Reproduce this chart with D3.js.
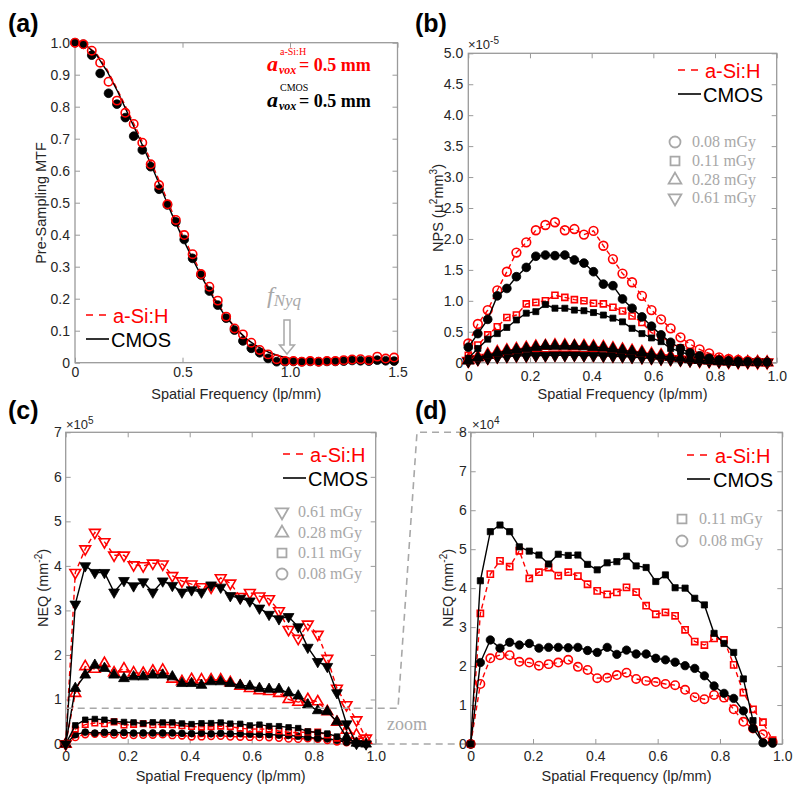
<!DOCTYPE html>
<html><head><meta charset="utf-8">
<script src="https://cdn.jsdelivr.net/npm/d3@7"></script>
<style>body{margin:0;background:#fff} svg{display:block} text{font-family:"Liberation Sans",Arial,sans-serif}</style>
</head><body>
<svg id="fig" width="800" height="795"></svg>
<script>
// ---------- DATA ----------
// (a) pre-sampling MTF
const freqMTF = [0,0.039,0.078,0.117,0.156,0.195,0.234,0.273,0.313,0.352,0.391,0.430,0.469,0.508,0.547,0.586,0.625,0.664,0.703,0.742,0.781,0.820,0.859,0.898,0.938,0.977,1.016,1.055,1.094,1.133,1.172,1.211,1.250,1.289,1.328,1.367,1.406,1.445,1.484];
const mtfASi = [1.0,0.995,0.975,0.9375,0.878,0.819,0.781,0.746,0.6875,0.62,0.555,0.495,0.446,0.399,0.339,0.277,0.2375,0.194,0.144,0.107,0.0885,0.0625,0.04,0.026,0.011,0.005,0.005,0.003,0.005,0.003,0.005,0.005,0.008,0.01,0.011,0.008,0.019,0.013,0.016];
const mtfCMOS = [1.0,0.995,0.961,0.904,0.842,0.808,0.766,0.708,0.665,0.6125,0.542,0.493,0.44,0.385,0.326,0.274,0.224,0.18,0.139,0.102,0.068,0.045,0.031,0.0135,0.003,0.003,0.004,0.003,0.004,0.003,0.004,0.004,0.005,0.007,0.006,0.005,0.008,0.006,0.005];
const fitFreq = [0,0.05,0.1,0.15,0.2,0.25,0.3,0.35,0.4,0.45,0.5,0.55,0.6,0.65,0.7,0.75,0.8,0.85,0.9,0.95,1.0,1.05,1.1,1.15,1.2,1.25,1.3,1.35,1.4,1.45,1.5];
const fitCMOS = [1.0,0.993,0.962,0.91,0.845,0.772,0.70,0.625,0.545,0.465,0.39,0.32,0.255,0.195,0.145,0.105,0.073,0.05,0.033,0.021,0.013,0.008,0.005,0.004,0.003,0.003,0.003,0.003,0.003,0.003,0.003];
const fitASi = [1.0,0.993,0.966,0.915,0.85,0.78,0.71,0.635,0.555,0.475,0.40,0.33,0.262,0.2,0.148,0.106,0.073,0.049,0.032,0.02,0.012,0.007,0.005,0.004,0.004,0.004,0.005,0.006,0.007,0.008,0.008];

// (b)-(d) frequency samples
const freq = [0,0.031,0.063,0.094,0.125,0.156,0.188,0.219,0.25,0.281,0.313,0.344,0.375,0.406,0.438,0.469,0.5,0.531,0.563,0.594,0.625,0.656,0.688,0.719,0.75,0.781,0.813,0.844,0.875,0.906,0.938,0.969];

// (b) NPS, x1e-5 mu^2 mm^3
const npsASi008 = [0.31,0.625,0.85,1.17,1.47,1.78,1.945,2.14,2.225,2.27,2.14,2.16,2.07,2.13,1.89,1.675,1.44,1.30,1.08,0.85,0.70,0.555,0.41,0.30,0.215,0.15,0.086,0.06,0.043,0.027,0.016,0.01];
const npsCMOS008 = [0.25,0.47,0.70,1.08,1.20,1.39,1.54,1.72,1.74,1.73,1.74,1.66,1.61,1.47,1.27,1.245,1.03,0.88,0.74,0.59,0.45,0.33,0.23,0.16,0.11,0.07,0.043,0.03,0.02,0.015,0.01,0.008];
const npsASi011 = [0.12,0.285,0.45,0.58,0.73,0.77,0.95,0.975,1.00,1.09,1.055,1.02,1.00,0.96,0.95,0.895,0.835,0.755,0.65,0.485,0.435,0.31,0.24,0.18,0.12,0.086,0.06,0.04,0.03,0.02,0.015,0.01];
const npsCMOS011 = [0.07,0.23,0.38,0.47,0.57,0.69,0.80,0.825,0.94,0.88,0.88,0.85,0.84,0.81,0.77,0.72,0.66,0.555,0.47,0.40,0.34,0.23,0.18,0.12,0.097,0.06,0.04,0.025,0.015,0.01,0.008,0.005];
const npsASi028 = [0.04,0.09,0.13,0.17,0.2,0.22,0.24,0.26,0.27,0.28,0.28,0.27,0.27,0.26,0.25,0.23,0.21,0.19,0.17,0.14,0.12,0.10,0.08,0.06,0.045,0.035,0.025,0.02,0.015,0.01,0.008,0.005];
const npsCMOS028 = [0.03,0.08,0.12,0.16,0.19,0.21,0.23,0.25,0.27,0.27,0.27,0.27,0.26,0.25,0.24,0.22,0.2,0.18,0.16,0.13,0.11,0.09,0.07,0.05,0.04,0.03,0.02,0.015,0.01,0.008,0.006,0.004];
const npsASi061 = [0.03,0.06,0.08,0.1,0.11,0.12,0.12,0.125,0.125,0.13,0.13,0.13,0.125,0.125,0.12,0.115,0.11,0.1,0.09,0.08,0.07,0.06,0.05,0.04,0.03,0.025,0.02,0.015,0.01,0.008,0.006,0.005];
const npsCMOS061 = [0.02,0.05,0.07,0.09,0.1,0.11,0.11,0.115,0.115,0.12,0.12,0.12,0.115,0.115,0.11,0.105,0.1,0.09,0.08,0.07,0.06,0.05,0.04,0.03,0.025,0.02,0.015,0.01,0.008,0.006,0.005,0.004];

// (c)/(d) NEQ, in units of 1e4 mm^-2
const neqASi061 = [0,38.5,43.8,47.5,45.4,42.4,42.4,40.2,40.0,40.6,40.4,37.8,36.6,35.9,35.3,35.2,37.3,36.1,33.1,34.0,33.2,32.6,29.9,25.7,23.7,26.9,24.6,19.2,12.5,8.8,5.4,1.3];
const neqCMOS061 = [0,31.4,40.0,38.5,38.5,34.1,36.7,35.5,36.4,34.1,36.6,35.6,34.1,34.6,34.1,35.7,35.2,33.3,32.7,32.1,30.5,29.1,28.1,28.6,26.3,21.7,18.5,17.4,11.5,4.5,0.1,0];
const neqASi028 = [0,11.4,17.4,16.8,18.1,16.0,16.9,16.0,15.9,16.4,16.6,14.6,14.0,14.5,14.4,14.4,14.4,13.8,13.0,12.5,12.0,11.8,11.4,10.0,9.4,10.0,9.5,7.3,4.9,3.1,2.0,0.9];
const neqCMOS028 = [0,12.5,15.5,17.7,17.0,15.5,14.7,15.1,15.1,15.5,15.5,15.1,13.6,13.6,13.2,14.0,14.0,13.6,13.2,13.0,12.5,12.3,12.3,11.5,10.8,8.8,7.5,7.3,5.0,1.5,0.2,0];
const neqCMOS011 = [0,4.19,5.45,5.62,5.45,5.06,4.95,4.85,4.62,4.87,4.84,4.85,4.61,4.47,4.65,4.68,4.82,4.57,4.53,4.17,4.34,4.01,4.0,3.74,3.57,2.84,2.58,2.35,1.67,0.6,0.03,0.06];
const neqASi011 = [0,3.35,4.36,4.70,4.55,4.96,4.25,4.41,4.53,4.32,4.41,4.31,4.10,3.93,3.84,3.89,4.02,3.90,3.55,3.33,3.38,3.29,2.93,2.63,2.54,2.71,2.67,2.03,1.32,0.89,0.56,0.10];
const neqCMOS008 = [0,2.09,2.67,2.46,2.61,2.54,2.58,2.46,2.48,2.48,2.47,2.48,2.40,2.35,2.48,2.30,2.41,2.31,2.31,2.20,2.16,2.10,2.01,1.94,1.75,1.49,1.30,1.17,0.85,0.40,0.03,0.02];
const neqASi008 = [0,1.54,2.2,2.28,2.28,2.11,2.09,2.01,2.05,2.09,2.16,1.98,1.90,1.69,1.70,1.77,1.83,1.67,1.62,1.59,1.54,1.51,1.39,1.20,1.15,1.26,1.19,0.89,0.57,0.40,0.25,0.06];

// tick labels
const ticksA_x = [0,0.5,1.0,1.5], ticksA_xl = ["0","0.5","1.0","1.5"];
const ticksA_y = [0,0.1,0.2,0.3,0.4,0.5,0.6,0.7,0.8,0.9,1.0], ticksA_yl = ["0","0.1","0.2","0.3","0.4","0.5","0.6","0.7","0.8","0.9","1.0"];
const ticksF = [0,0.2,0.4,0.6,0.8,1.0], ticksFl = ["0","0.2","0.4","0.6","0.8","1.0"];
const ticksB_y = [0,0.5,1,1.5,2,2.5,3,3.5,4,4.5,5], ticksB_yl = ["0","0.5","1.0","1.5","2.0","2.5","3.0","3.5","4.0","4.5","5.0"];
const ticksC_y = [0,10,20,30,40,50,60,70], ticksC_yl = ["0","1","2","3","4","5","6","7"];
const ticksD_y = [0,1,2,3,4,5,6,7,8], ticksD_yl = ["0","1","2","3","4","5","6","7","8"];
const doseLabels = ["0.08 mGy","0.11 mGy","0.28 mGy","0.61 mGy"];

// ---------- DRAWING ----------
const svg = d3.select("#fig");
const RED = "#ff0000", BLK = "#000", LG = "#a8a8a8", FRAME = "#9a9a9a", TXT = "#262626";
const SHAPES = {circle: d3.symbolCircle, square: d3.symbolSquare, up: d3.symbolTriangle, down: d3.symbolTriangle};

function panel(c) {
  const x = d3.scaleLinear().domain(c.xd).range([c.l, c.r]);
  const y = d3.scaleLinear().domain(c.yd).range([c.b, c.t]);
  const g = svg.append("g");
  const mk = (axis, tr, vals, labels, pad) => {
    const a = axis.tickValues(vals).tickSizeInner(-5).tickSizeOuter(0).tickPadding(pad)
      .tickFormat(labels ? (d, i) => labels[i] : () => "");
    const ag = g.append("g").attr("transform", tr).call(a);
    ag.select(".domain").remove();
    ag.selectAll("line").attr("stroke", FRAME);
    ag.selectAll("text").attr("fill", TXT).style("font-size", "14px").style("font-family", '"Liberation Sans",Arial,sans-serif');
  };
  mk(d3.axisBottom(x), `translate(0,${c.b})`, c.xt, c.xtl, c.xpad);
  mk(d3.axisTop(x), `translate(0,${c.t})`, c.xt, null, 0);
  mk(d3.axisLeft(y), `translate(${c.l},0)`, c.yt, c.ytl, c.ypad);
  mk(d3.axisRight(y), `translate(${c.r},0)`, c.yt, null, 0);
  g.append("rect").attr("x", c.l).attr("y", c.t).attr("width", c.r - c.l).attr("height", c.b - c.t)
    .attr("fill", "none").attr("stroke", FRAME).attr("stroke-width", 1.3);
  // titles
  g.append("text").attr("x", (c.l + c.r) / 2).attr("y", c.xty).attr("text-anchor", "middle")
    .attr("fill", TXT).style("font-size", "14.5px").text("Spatial Frequency (lp/mm)");
  const yt = g.append("text").attr("transform", `translate(${c.ytx},${c.ytyc}) rotate(-90)`)
    .attr("text-anchor", "middle").attr("fill", TXT).style("font-size", "14.5px");
  c.ytitle(yt);
  g.append("text").attr("x", c.lx).attr("y", c.ly).attr("fill", "#000")
    .style("font-size", "25px").style("font-weight", "bold").text(c.letter);
  return {x, y, g};
}

function series(p, xs, ys, o) {
  if (o.line) {
    const ln = d3.line().x((d, i) => p.x(xs[i])).y(d => p.y(d));
    p.g.append("path").attr("d", ln(ys)).attr("fill", "none").attr("stroke", o.color)
      .attr("stroke-width", o.lw || 1.4).attr("stroke-dasharray", o.dash ? "5,3.5" : null);
  }
  if (o.shape) {
    const s = d3.symbol().type(SHAPES[o.shape]).size(o.size);
    p.g.append("g").selectAll("path").data(ys).enter().append("path").attr("d", s)
      .attr("transform", (d, i) => `translate(${p.x(xs[i])},${p.y(d)})${o.shape === "down" ? " rotate(180)" : ""}`)
      .attr("fill", o.filled ? o.color : "none").attr("stroke", o.color).attr("stroke-width", o.filled ? 0.8 : 1.6);
  }
}

function lineLegend(xl, xt, yA, yC) {
  svg.append("line").attr("x1", xl).attr("x2", xl + 20).attr("y1", yA - 8).attr("y2", yA - 8)
    .attr("stroke", RED).attr("stroke-width", 1.6).attr("stroke-dasharray", "7,6");
  svg.append("text").attr("x", xt).attr("y", yA).attr("fill", RED).style("font-size", "20px").text("a-Si:H");
  svg.append("line").attr("x1", xl).attr("x2", xl + 23).attr("y1", yC - 8).attr("y2", yC - 8)
    .attr("stroke", BLK).attr("stroke-width", 1.6);
  svg.append("text").attr("x", xt - 2).attr("y", yC).attr("fill", BLK).style("font-size", "20px").text("CMOS");
}

function markerLegend(xs, xt, rows) {
  rows.forEach(r => {
    const s = d3.symbol().type(SHAPES[r.shape]).size(r.shape === "circle" ? 95 : r.shape === "square" ? 80 : 70);
    svg.append("path").attr("d", s)
      .attr("transform", `translate(${xs},${r.y})${r.shape === "down" ? " rotate(180)" : ""}`)
      .attr("fill", "none").attr("stroke", LG).attr("stroke-width", 1.8);
    svg.append("text").attr("x", xt).attr("y", r.y + 5).attr("fill", LG)
      .style("font-family", '"Liberation Serif","DejaVu Serif",serif').style("font-size", "16px").text(r.label);
  });
}

function expLabel(x, y, base, sup) {
  const t = svg.append("text").attr("x", x).attr("y", y).attr("fill", TXT).style("font-size", "13px");
  t.append("tspan").text(base);
  t.append("tspan").attr("dy", -5).style("font-size", "10px").text(sup);
}

// ----- (a) -----
const pa = panel({l: 75, r: 397.5, t: 42.7, b: 362.7, xd: [0, 1.5], yd: [0, 1],
  xt: ticksA_x, xtl: ticksA_xl, yt: ticksA_y, ytl: ticksA_yl, xpad: 4, ypad: 5,
  xty: 399, ytx: 46, ytyc: 203, lx: 8, ly: 32, letter: "(a)",
  ytitle: t => t.text("Pre-Sampling MTF")});
series(pa, fitFreq, fitASi, {color: RED, line: true, dash: true});
series(pa, fitFreq, fitCMOS, {color: BLK, line: true});
series(pa, freqMTF, mtfCMOS, {color: BLK, shape: "circle", size: 60, filled: true});
series(pa, freqMTF, mtfASi, {color: RED, shape: "circle", size: 55});
lineLegend(86, 113, 323, 347);
// voxel annotations
function vox(y, color, sup) {
  const serif = '"Liberation Serif","DejaVu Serif",serif';
  svg.append("text").attr("x", 267).attr("y", y).attr("fill", color).style("font-family", serif)
    .style("font-size", "22px").style("font-style", "italic").style("font-weight", "bold").text("a");
  svg.append("text").attr("x", 279).attr("y", y + 3).attr("fill", color).style("font-family", serif)
    .style("font-size", "12px").style("font-style", "italic").style("font-weight", "bold").text("vox");
  svg.append("text").attr("x", 280).attr("y", y - 16).attr("fill", color).style("font-family", serif)
    .style("font-size", "10px").text(sup);
  svg.append("text").attr("x", 299).attr("y", y).attr("fill", color).style("font-family", serif)
    .style("font-size", "18px").style("font-weight", "bold").text("= 0.5 mm");
}
vox(71, RED, "a-Si:H");
vox(107, BLK, "CMOS");
// f_Nyq annotation
{
  const serif = '"Liberation Serif","DejaVu Serif",serif';
  const t = svg.append("text").attr("x", 267).attr("y", 303).attr("fill", LG).style("font-family", serif).style("font-style", "italic");
  t.append("tspan").style("font-size", "24px").text("f");
  t.append("tspan").attr("dy", 3).style("font-size", "17px").text("Nyq");
  svg.append("path").attr("d", "M284,320 L290,320 L290,345 L294.5,345 L287,354 L279.5,345 L284,345 Z")
    .attr("fill", "none").attr("stroke", LG).attr("stroke-width", 1.5);
}

// ----- (b) -----
const pb = panel({l: 468.3, r: 776.7, t: 53.3, b: 362.7, xd: [0, 1], yd: [0, 5],
  xt: ticksF, xtl: ticksFl, yt: ticksB_y, ytl: ticksB_yl, xpad: 8, ypad: 5,
  xty: 399, ytx: 443, ytyc: 208, lx: 415, ly: 32, letter: "(b)",
  ytitle: t => { t.append("tspan").text("NPS ("); t.append("tspan").style("font-family", '"DejaVu Sans",sans-serif').text("μ");
    t.append("tspan").attr("dy", -6).style("font-size", "10px").text("2");
    t.append("tspan").attr("dy", 6).text("mm"); t.append("tspan").attr("dy", -6).style("font-size", "10px").text("3");
    t.append("tspan").attr("dy", 6).text(")"); }});
expLabel(468, 49, "×10", "-5");
[[npsASi061, npsCMOS061, "down", 55], [npsASi028, npsCMOS028, "up", 55], [npsASi011, npsCMOS011, "square", 36], [npsASi008, npsCMOS008, "circle", 60]]
  .forEach(([a, c, sh, sz]) => {
    series(pb, freq, a, {color: RED, line: true, dash: true, shape: sh, size: sz});
    series(pb, freq, c, {color: BLK, line: true, shape: sh, size: sz, filled: true});
  });
lineLegend(678, 705, 78, 102);
markerLegend(675, 692, [{shape: "circle", y: 142, label: doseLabels[0]}, {shape: "square", y: 161, label: doseLabels[1]},
  {shape: "up", y: 180, label: doseLabels[2]}, {shape: "down", y: 198, label: doseLabels[3]}]);

// ----- (c) -----
const pc = panel({l: 65.7, r: 375.7, t: 432.3, b: 744, xd: [0, 1], yd: [0, 70],
  xt: ticksF, xtl: ticksFl, yt: ticksC_y, ytl: ticksC_yl, xpad: 7, ypad: 4,
  xty: 781, ytx: 48, ytyc: 588, lx: 8, ly: 419, letter: "(c)",
  ytitle: t => { t.append("tspan").text("NEQ (mm"); t.append("tspan").attr("dy", -6).style("font-size", "10px").text("-2");
    t.append("tspan").attr("dy", 6).text(")"); }});
expLabel(66, 429, "×10", "5");
// zoom guide
svg.append("path").attr("d", "M65.7,708.3 L398,708.3 L400,680 L417,432.3 L470.7,432.3 M375.7,744 L470.7,744")
  .attr("fill", "none").attr("stroke", LG).attr("stroke-width", 1.6).attr("stroke-dasharray", "7,5");
svg.append("text").attr("x", 387).attr("y", 730).attr("fill", LG).style("font-family", '"Liberation Serif","DejaVu Serif",serif')
  .style("font-size", "18px").text("zoom");
[[neqASi008, neqCMOS008, "circle", 36], [neqASi011, neqCMOS011, "square", 30]].forEach(([a, c, sh, sz]) => {
  series(pc, freq, a, {color: RED, line: true, dash: true, shape: sh, size: sz});
  series(pc, freq, c, {color: BLK, line: true, shape: sh, size: sz, filled: true});
});
[[neqASi028, neqCMOS028, "up"], [neqASi061, neqCMOS061, "down"]].forEach(([a, c, sh]) => {
  series(pc, freq, a, {color: RED, line: true, dash: true, shape: sh, size: 50});
  series(pc, freq, c, {color: BLK, line: true, shape: sh, size: 50, filled: true});
});
lineLegend(283, 310, 462, 486);
markerLegend(282, 298, [{shape: "down", y: 512, label: doseLabels[3]}, {shape: "up", y: 533, label: doseLabels[2]},
  {shape: "square", y: 553, label: doseLabels[1]}, {shape: "circle", y: 574, label: doseLabels[0]}]);

// ----- (d) -----
const pd = panel({l: 470.7, r: 782.3, t: 432.3, b: 744, xd: [0, 1], yd: [0, 8],
  xt: ticksF, xtl: ticksFl, yt: ticksD_y, ytl: ticksD_yl, xpad: 7, ypad: 4,
  xty: 781, ytx: 453, ytyc: 588, lx: 415, ly: 419, letter: "(d)",
  ytitle: t => { t.append("tspan").text("NEQ (mm"); t.append("tspan").attr("dy", -6).style("font-size", "10px").text("-2");
    t.append("tspan").attr("dy", 6).text(")"); }});
expLabel(472, 429, "×10", "4");
[[neqASi008, neqCMOS008, "circle", 55], [neqASi011, neqCMOS011, "square", 38]].forEach(([a, c, sh, sz]) => {
  series(pd, freq, a, {color: RED, line: true, dash: true, shape: sh, size: sz});
  series(pd, freq, c, {color: BLK, line: true, shape: sh, size: sz, filled: true});
});
lineLegend(687, 715, 463, 487);
markerLegend(682, 699, [{shape: "square", y: 519, label: doseLabels[1]}, {shape: "circle", y: 541, label: doseLabels[0]}]);
</script>
</body></html>
